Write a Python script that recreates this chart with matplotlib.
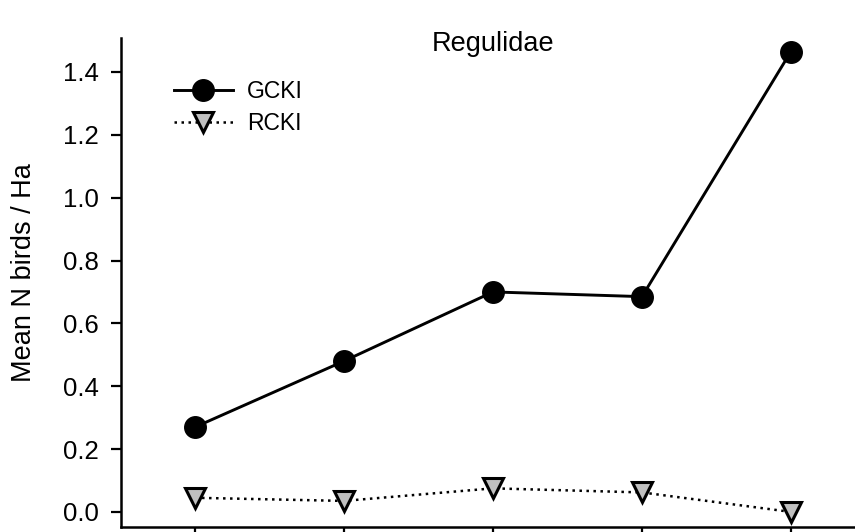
import matplotlib
matplotlib.use("Agg")
import matplotlib.pyplot as plt

plt.rcParams['font.family'] = ['Liberation Sans', 'DejaVu Sans']

# data
sites = [1, 2, 3, 4, 5]
gcki = [0.27, 0.48, 0.70, 0.685, 1.465]
rcki = [0.045, 0.035, 0.075, 0.062, 0.0]
yticks = [0.0, 0.2, 0.4, 0.6, 0.8, 1.0, 1.2, 1.4]

fig = plt.figure(figsize=(8.55, 5.32), dpi=100)
ax = fig.add_axes([121 / 855, 5 / 532, 1 - 121 / 855, (527 - 38) / 532])

ax.plot(sites, gcki, color='black', lw=2.1, marker='o', ms=15.5,
        mfc='black', mec='black', label='GCKI')
ax.plot(sites, rcki, color='black', lw=1.8, ls=(0, (1, 1.8)), marker='v', ms=14,
        mfc='#c0c0c0', mec='black', mew=2.2, label='RCKI')

ax.set_xlim(0.503, 5.43)
ax.set_ylim(-0.048, 1.508)
ax.set_xticks(sites)
ax.set_xticklabels([])
ax.set_yticks(yticks)
ax.set_yticklabels([f'{v:.1f}' for v in yticks])
ax.tick_params(axis='both', direction='out', length=7, width=1.6, labelsize=18.5, pad=9)
ax.spines['top'].set_visible(False)
ax.spines['right'].set_visible(False)
ax.spines['left'].set_linewidth(1.8)
ax.spines['bottom'].set_linewidth(1.8)
ax.set_ylabel('Mean N birds / Ha', fontsize=19.5)
ax.yaxis.set_label_coords(-84 / 734, 0.52)

ax.text(3, 1.49, 'Regulidae', ha='center', va='center', fontsize=19.5)
ax.legend(loc='center left', bbox_to_anchor=(0.056, 0.858), frameon=False,
          fontsize=16.5, handlelength=2.6, handletextpad=0.6, labelspacing=0.4,
          borderpad=0)

fig.savefig('out.png', dpi=100)
